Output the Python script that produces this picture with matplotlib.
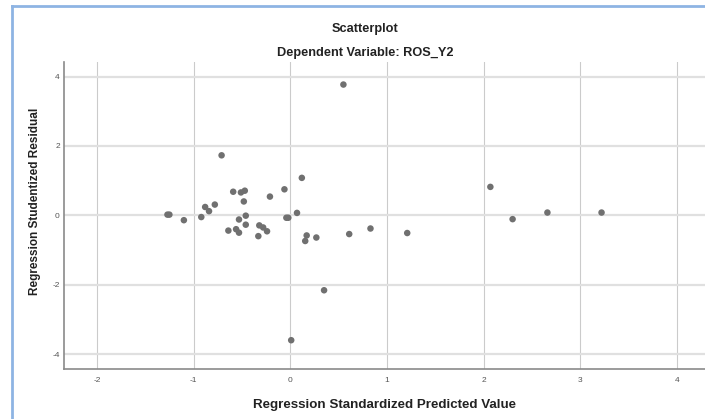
import matplotlib.pyplot as plt
from matplotlib.lines import Line2D

# standardized predicted value (x) and studentized residual (y)
pred = [0.55, -0.71, 0.12, 2.07, -0.06, -0.59, -0.51, -0.47, -0.21, -0.48,
        -0.78, -0.88, -0.84, -1.27, -1.25, -1.10, -0.92, -0.46, -0.53, -0.46,
        0.07, -0.04, -0.02, -0.64, -0.56, -0.53, -0.32, -0.28, -0.24, -0.33,
        0.17, 0.155, 0.27, 0.61, 0.83, 1.21, 2.30, 2.66, 3.22, 0.35, 0.01]
resid = [3.77, 1.73, 1.08, 0.82, 0.75, 0.68, 0.66, 0.71, 0.54, 0.40,
         0.31, 0.24, 0.12, 0.02, 0.02, -0.14, -0.05, -0.01, -0.12, -0.27,
         0.07, -0.07, -0.07, -0.44, -0.40, -0.50, -0.29, -0.35, -0.46, -0.60,
         -0.58, -0.74, -0.64, -0.54, -0.38, -0.51, -0.11, 0.08, 0.08, -2.16, -3.60]

x_ticks = [-2, -1, 0, 1, 2, 3, 4]
y_ticks = [-4, -2, 0, 2, 4]

plt.rcParams['font.family'] = ['Liberation Sans', 'DejaVu Sans']
plt.rcParams['axes.unicode_minus'] = False

fig = plt.figure(figsize=(7.05, 4.19), dpi=100)
ax = fig.add_axes([64 / 705, 50 / 419, 641 / 705, 307 / 419])

# grid: horizontal lines a bit wider and lighter than the vertical ones
for v in x_ticks:
    ax.axvline(v, color='#cbcbcb', lw=0.8, zorder=0)
for v in y_ticks:
    ax.axhline(v, color='#e0e0e0', lw=1.6, zorder=0)

ax.scatter(pred, resid, s=22, color='#707070', edgecolors='none', zorder=3)

ax.set_xlim(-2.34, 4.29)
ax.set_ylim(-4.43, 4.42)
ax.set_xticks(x_ticks)
ax.set_yticks(y_ticks)
ax.tick_params(length=0, labelsize=6, colors='#555555')
ax.tick_params(axis='x', pad=6)
ax.tick_params(axis='y', pad=3)

for side in ['top', 'right']:
    ax.spines[side].set_visible(False)
for side in ['left', 'bottom']:
    ax.spines[side].set_color('#8a8a8a')
    ax.spines[side].set_linewidth(1.2)

ax.set_xlabel("Regression Standardized Predicted Value", fontsize=9.6,
              fontweight='bold', color='#222222')
ax.xaxis.set_label_coords(0.5, -0.099)
ax.set_ylabel("Regression Studentized Residual", fontsize=8.5,
              fontweight='bold', color='#222222')
ax.yaxis.set_label_coords(-0.0355, 0.545)

fig.text(365 / 705, 1 - 29 / 419, "Scatterplot", fontsize=9.2,
         fontweight='bold', ha='center', va='center', color='#222222')
fig.text(365 / 705, 1 - 53 / 419, "Dependent Variable: ROS_Y2", fontsize=9.2,
         fontweight='bold', ha='center', va='center', color='#222222')

# light blue frame on top and left
fig.add_artist(Line2D([12 / 705, 1], [1 - 6 / 419, 1 - 6 / 419],
                      transform=fig.transFigure, color='#8eb4e3', lw=2))
fig.add_artist(Line2D([12 / 705, 12 / 705], [0, 1 - 6 / 419],
                      transform=fig.transFigure, color='#8eb4e3', lw=2))

fig.savefig('out.png', dpi=100)
